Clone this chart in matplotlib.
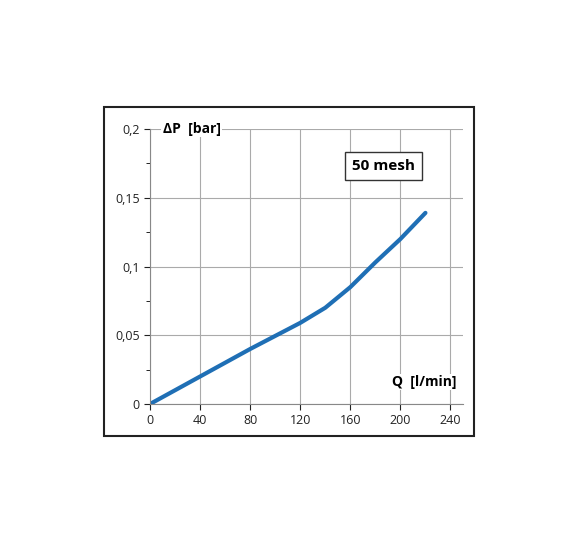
import matplotlib
matplotlib.use("Agg")
import matplotlib.pyplot as plt
from matplotlib.patches import Rectangle

flow = [0, 40, 80, 120, 140, 160, 180, 200, 220]
dp = [0, 0.02, 0.04, 0.059, 0.07, 0.085, 0.103, 0.12, 0.139]
xticks = [0, 40, 80, 120, 160, 200, 240]
yticks = [0, 0.05, 0.1, 0.15, 0.2]
ylabels = ["0", "0,05", "0,1", "0,15", "0,2"]

plt.rcParams['font.family'] = ['Open Sans', 'DejaVu Sans']
fig = plt.figure(figsize=(5.81, 5.49), dpi=100)
fig.patches.append(Rectangle((104/581, 113/549), 370/581, 329/549, transform=fig.transFigure,
                             fill=False, edgecolor='#222222', linewidth=1.5))
ax = fig.add_axes([150/581, 145/549, 313/581, 275/549])
ax.plot(flow, dp, color='#1f6fb5', linewidth=3, solid_capstyle='round')
ax.set_xlim(0, 250)
ax.set_ylim(0, 0.2)
ax.set_xticks(xticks)
ax.set_yticks(yticks)
ax.set_yticklabels(ylabels)
ax.set_yticks([0.025, 0.075, 0.125, 0.175], minor=True)
ax.grid(True, color='#aaaaaa', linewidth=0.8)
for s in ['top', 'right']:
    ax.spines[s].set_visible(False)
ax.spines['left'].set_color('#888888')
ax.spines['bottom'].set_color('#888888')
ax.tick_params(labelsize=9, colors='#222222', length=4)
ax.tick_params(which='minor', length=3)
ax.text(0.04, 1.0, "ΔP  [bar]", transform=ax.transAxes, fontsize=10, fontweight='bold',
        va='center', ha='left', bbox=dict(facecolor='white', edgecolor='none', pad=1))
ax.text(0.98, 0.08, "Q  [l/min]", transform=ax.transAxes, fontsize=10, fontweight='bold',
        va='center', ha='right', bbox=dict(facecolor='white', edgecolor='none', pad=1))
ax.text(0.745, 0.865, "50 mesh", transform=ax.transAxes, fontsize=11, fontweight='bold',
        va='center', ha='center', bbox=dict(facecolor='white', edgecolor='#333333', pad=5))
fig.savefig("out.png", dpi=100)
